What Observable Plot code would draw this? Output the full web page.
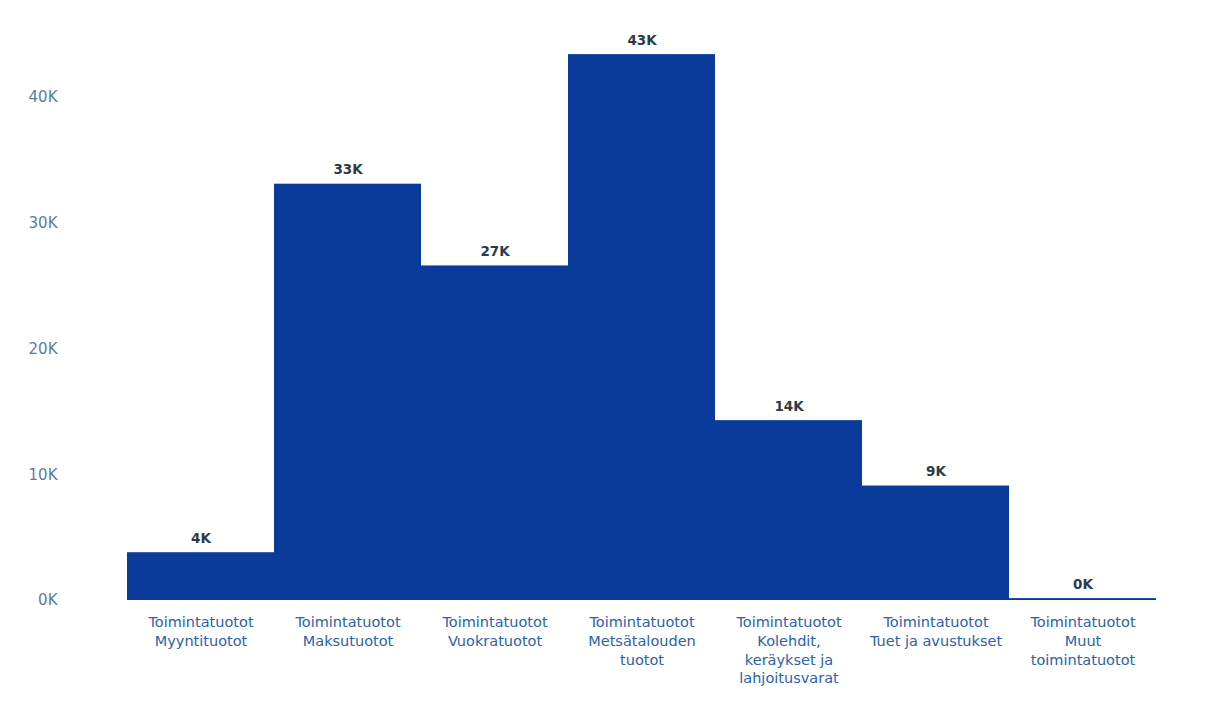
<!DOCTYPE html>
<html>
<head>
<meta charset="utf-8">
<script src="https://cdn.jsdelivr.net/npm/d3@7"></script>
<script src="https://cdn.jsdelivr.net/npm/@observablehq/plot@0.6"></script>
<style>
  body { margin: 0; background: #fff; }
  #chart svg { display: block; }
</style>
</head>
<body>
<div id="chart"></div>
<script>
const categories = [
  "Toimintatuotot\nMyyntituotot",
  "Toimintatuotot\nMaksutuotot",
  "Toimintatuotot\nVuokratuotot",
  "Toimintatuotot\nMetsätalouden\ntuotot",
  "Toimintatuotot\nKolehdit,\nkeräykset ja\nlahjoitusvarat",
  "Toimintatuotot\nTuet ja avustukset",
  "Toimintatuotot\nMuut\ntoimintatuotot"
];
const values = [3800, 33100, 26600, 43400, 14300, 9100, 150];
const yTicks = [0, 10000, 20000, 30000, 40000];

const data = categories.map((c, i) => ({category: c, value: values[i]}));
const fmtK = v => Math.round(v / 1000) + "K";

const chart = Plot.plot({
  width: 1229,
  height: 701,
  marginLeft: 125,
  marginRight: 71,
  marginTop: 34,
  marginBottom: 101,
  style: {fontFamily: "DejaVu Sans, Verdana, sans-serif", background: "#fff"},
  x: {domain: categories, padding: 0, label: null},
  y: {domain: [0, 45000], label: null},
  marks: [
    Plot.barY(data, {x: "category", y: "value", fill: "#0a3b9b"}),
    Plot.text(data, {x: "category", y: "value", text: d => fmtK(d.value), lineAnchor: "bottom", dy: -10, fill: "#2d3a4a", fontSize: 13.5, fontWeight: "bold"}),
    Plot.axisY({ticks: yTicks, tickFormat: fmtK, tickSize: 0, tickPadding: 68, fontSize: 15, fill: "#5d7c9f", label: null, style: {letterSpacing: "1.2px"}}),
    Plot.axisX({tickSize: 0, tickPadding: 13, fontSize: 14.5, fill: "#2c62a7", lineHeight: 1.3, label: null})
  ]
});
document.getElementById("chart").appendChild(chart);
</script>
</body>
</html>
